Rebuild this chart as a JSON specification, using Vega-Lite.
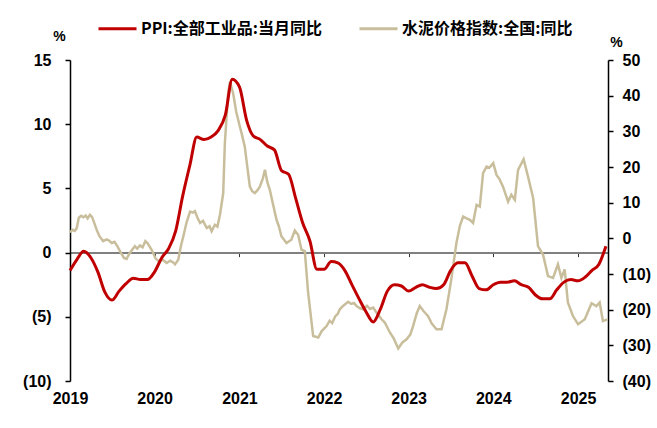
{
  "$schema": "https://vega.github.io/schema/vega-lite/v6.json",
  "width": 538,
  "height": 321,
  "autosize": {"type": "none"},
  "padding": {"left": 70, "top": 60, "right": 49, "bottom": 47},
  "background": "white",
  "config": {"view": {"stroke": null}, "font": "Liberation Sans Narrow, Liberation Sans, sans-serif"},
  "datasets": {
    "ppi": [
      {"date": "2019-01-01", "value": -1.4}, {"date": "2019-02-01", "value": -0.5}, {"date": "2019-03-01", "value": 0.1},
      {"date": "2019-04-01", "value": -0.4}, {"date": "2019-05-01", "value": -1.5}, {"date": "2019-06-01", "value": -3.1},
      {"date": "2019-07-01", "value": -3.7}, {"date": "2019-08-01", "value": -3.0}, {"date": "2019-09-01", "value": -2.4},
      {"date": "2019-10-01", "value": -2.0}, {"date": "2019-11-01", "value": -2.1}, {"date": "2019-12-01", "value": -2.1},
      {"date": "2020-01-01", "value": -1.5}, {"date": "2020-02-01", "value": -0.4}, {"date": "2020-03-01", "value": 0.3},
      {"date": "2020-04-01", "value": 1.7}, {"date": "2020-05-01", "value": 4.4}, {"date": "2020-06-01", "value": 6.8},
      {"date": "2020-07-01", "value": 9.0}, {"date": "2020-08-01", "value": 8.8}, {"date": "2020-09-01", "value": 9.0},
      {"date": "2020-10-01", "value": 9.5}, {"date": "2020-11-01", "value": 10.7}, {"date": "2020-12-01", "value": 13.5},
      {"date": "2021-01-01", "value": 12.9}, {"date": "2021-02-01", "value": 10.3}, {"date": "2021-03-01", "value": 9.1},
      {"date": "2021-04-01", "value": 8.8}, {"date": "2021-05-01", "value": 8.3}, {"date": "2021-06-01", "value": 8.0},
      {"date": "2021-07-01", "value": 6.4}, {"date": "2021-08-01", "value": 6.1}, {"date": "2021-09-01", "value": 4.2},
      {"date": "2021-10-01", "value": 2.3}, {"date": "2021-11-01", "value": 0.9}, {"date": "2021-12-01", "value": -1.3},
      {"date": "2022-01-01", "value": -1.3}, {"date": "2022-02-01", "value": -0.7}, {"date": "2022-03-01", "value": -0.8},
      {"date": "2022-04-01", "value": -1.4}, {"date": "2022-05-01", "value": -2.5}, {"date": "2022-06-01", "value": -3.6},
      {"date": "2022-07-01", "value": -4.6}, {"date": "2022-08-01", "value": -5.4}, {"date": "2022-09-01", "value": -4.4},
      {"date": "2022-10-01", "value": -3.0}, {"date": "2022-11-01", "value": -2.5}, {"date": "2022-12-01", "value": -2.6},
      {"date": "2023-01-01", "value": -3.0}, {"date": "2023-02-01", "value": -2.7}, {"date": "2023-03-01", "value": -2.5},
      {"date": "2023-04-01", "value": -2.7}, {"date": "2023-05-01", "value": -2.8}, {"date": "2023-06-01", "value": -2.5},
      {"date": "2023-07-01", "value": -1.4}, {"date": "2023-08-01", "value": -0.8}, {"date": "2023-09-01", "value": -0.8},
      {"date": "2023-10-01", "value": -1.8}, {"date": "2023-11-01", "value": -2.8}, {"date": "2023-12-01", "value": -2.9},
      {"date": "2024-01-01", "value": -2.5}, {"date": "2024-02-01", "value": -2.3}, {"date": "2024-03-01", "value": -2.3},
      {"date": "2024-04-01", "value": -2.2}, {"date": "2024-05-01", "value": -2.5}, {"date": "2024-06-01", "value": -2.7},
      {"date": "2024-07-01", "value": -3.3}, {"date": "2024-08-01", "value": -3.6}, {"date": "2024-09-01", "value": -3.6},
      {"date": "2024-10-01", "value": -2.9}, {"date": "2024-11-01", "value": -2.3}, {"date": "2024-12-01", "value": -2.1},
      {"date": "2025-01-01", "value": -2.2}, {"date": "2025-02-01", "value": -1.9}, {"date": "2025-03-01", "value": -1.4},
      {"date": "2025-04-01", "value": -0.9}, {"date": "2025-05-01", "value": 0.5}
    ],
    "cement": [
      {"date": "2019-01-01", "value": 1.7}, {"date": "2019-01-12", "value": 2.4}, {"date": "2019-01-22", "value": 2.1},
      {"date": "2019-01-30", "value": 2.8}, {"date": "2019-02-08", "value": 5.8}, {"date": "2019-02-18", "value": 6.3},
      {"date": "2019-02-28", "value": 5.9}, {"date": "2019-03-10", "value": 6.4}, {"date": "2019-03-18", "value": 5.6},
      {"date": "2019-03-28", "value": 6.6}, {"date": "2019-04-06", "value": 6.0}, {"date": "2019-04-14", "value": 4.6},
      {"date": "2019-04-26", "value": 2.4}, {"date": "2019-05-08", "value": 0.6}, {"date": "2019-05-24", "value": -0.8},
      {"date": "2019-06-08", "value": -0.3}, {"date": "2019-06-18", "value": -0.6}, {"date": "2019-06-30", "value": -1.3},
      {"date": "2019-07-12", "value": -1.0}, {"date": "2019-07-24", "value": -2.2}, {"date": "2019-08-10", "value": -4.2},
      {"date": "2019-08-22", "value": -5.5}, {"date": "2019-09-02", "value": -5.8}, {"date": "2019-09-14", "value": -4.3},
      {"date": "2019-09-26", "value": -3.2}, {"date": "2019-10-08", "value": -2.2}, {"date": "2019-10-18", "value": -2.9},
      {"date": "2019-10-30", "value": -2.0}, {"date": "2019-11-10", "value": -2.5}, {"date": "2019-11-22", "value": -0.8},
      {"date": "2019-12-02", "value": -1.4}, {"date": "2019-12-19", "value": -3.2}, {"date": "2020-01-05", "value": -5.6},
      {"date": "2020-01-18", "value": -6.4}, {"date": "2020-02-05", "value": -6.0}, {"date": "2020-02-22", "value": -6.9},
      {"date": "2020-03-08", "value": -6.3}, {"date": "2020-03-20", "value": -6.7}, {"date": "2020-03-29", "value": -7.3},
      {"date": "2020-04-12", "value": -6.0}, {"date": "2020-04-24", "value": -2.0}, {"date": "2020-05-04", "value": 0.6},
      {"date": "2020-05-18", "value": 4.5}, {"date": "2020-06-02", "value": 7.5}, {"date": "2020-06-14", "value": 7.2},
      {"date": "2020-06-23", "value": 7.6}, {"date": "2020-07-05", "value": 5.6}, {"date": "2020-07-15", "value": 4.3},
      {"date": "2020-07-28", "value": 4.9}, {"date": "2020-08-13", "value": 2.9}, {"date": "2020-08-25", "value": 3.4},
      {"date": "2020-09-03", "value": 2.0}, {"date": "2020-09-17", "value": 3.8}, {"date": "2020-09-28", "value": 3.3},
      {"date": "2020-10-09", "value": 6.6}, {"date": "2020-10-23", "value": 12.7}, {"date": "2020-10-30", "value": 26.6},
      {"date": "2020-11-13", "value": 40.6}, {"date": "2020-11-21", "value": 43.9}, {"date": "2020-12-05", "value": 40.6},
      {"date": "2020-12-18", "value": 35.5}, {"date": "2021-01-03", "value": 31.3}, {"date": "2021-01-12", "value": 29.0},
      {"date": "2021-01-24", "value": 25.7}, {"date": "2021-02-05", "value": 19.5}, {"date": "2021-02-15", "value": 14.5},
      {"date": "2021-02-25", "value": 13.2}, {"date": "2021-03-08", "value": 12.7}, {"date": "2021-03-20", "value": 13.5},
      {"date": "2021-03-30", "value": 14.5}, {"date": "2021-04-12", "value": 16.8}, {"date": "2021-04-21", "value": 19.2},
      {"date": "2021-05-01", "value": 15.8}, {"date": "2021-05-12", "value": 13.6}, {"date": "2021-05-25", "value": 9.8},
      {"date": "2021-06-10", "value": 5.2}, {"date": "2021-06-20", "value": 3.4}, {"date": "2021-07-01", "value": 0.6},
      {"date": "2021-07-23", "value": -1.3}, {"date": "2021-08-13", "value": -0.4}, {"date": "2021-08-28", "value": 2.2},
      {"date": "2021-09-11", "value": 1.0}, {"date": "2021-09-26", "value": -3.2}, {"date": "2021-10-10", "value": -3.6},
      {"date": "2021-10-24", "value": -15.0}, {"date": "2021-11-15", "value": -27.4}, {"date": "2021-12-07", "value": -27.8},
      {"date": "2021-12-22", "value": -26.0}, {"date": "2022-01-12", "value": -24.6}, {"date": "2022-01-25", "value": -23.1},
      {"date": "2022-02-05", "value": -23.8}, {"date": "2022-02-18", "value": -21.9}, {"date": "2022-03-01", "value": -21.2},
      {"date": "2022-03-10", "value": -19.9}, {"date": "2022-03-25", "value": -18.9}, {"date": "2022-04-15", "value": -17.8},
      {"date": "2022-04-28", "value": -18.4}, {"date": "2022-05-10", "value": -18.1}, {"date": "2022-05-21", "value": -19.0},
      {"date": "2022-06-05", "value": -19.6}, {"date": "2022-06-19", "value": -19.9}, {"date": "2022-07-05", "value": -18.9},
      {"date": "2022-07-18", "value": -19.8}, {"date": "2022-08-01", "value": -19.4}, {"date": "2022-08-15", "value": -20.8},
      {"date": "2022-09-06", "value": -22.7}, {"date": "2022-09-20", "value": -23.6}, {"date": "2022-10-12", "value": -26.4},
      {"date": "2022-10-28", "value": -28.0}, {"date": "2022-11-17", "value": -30.9}, {"date": "2022-12-05", "value": -29.2},
      {"date": "2022-12-23", "value": -28.3}, {"date": "2023-01-08", "value": -27.0}, {"date": "2023-01-20", "value": -24.6},
      {"date": "2023-02-05", "value": -21.0}, {"date": "2023-02-18", "value": -19.0}, {"date": "2023-03-05", "value": -20.3},
      {"date": "2023-03-26", "value": -21.8}, {"date": "2023-04-10", "value": -23.8}, {"date": "2023-05-01", "value": -25.5},
      {"date": "2023-05-23", "value": -25.5}, {"date": "2023-06-05", "value": -22.0}, {"date": "2023-06-13", "value": -19.9},
      {"date": "2023-07-04", "value": -11.5}, {"date": "2023-07-26", "value": -1.3}, {"date": "2023-08-10", "value": 3.5},
      {"date": "2023-08-24", "value": 6.1}, {"date": "2023-09-08", "value": 5.6}, {"date": "2023-09-22", "value": 5.2},
      {"date": "2023-10-06", "value": 4.3}, {"date": "2023-10-21", "value": 9.4}, {"date": "2023-11-04", "value": 8.9},
      {"date": "2023-11-18", "value": 18.3}, {"date": "2023-12-03", "value": 20.1}, {"date": "2023-12-15", "value": 19.8},
      {"date": "2024-01-01", "value": 21.1}, {"date": "2024-01-15", "value": 17.8}, {"date": "2024-01-28", "value": 16.6},
      {"date": "2024-02-12", "value": 14.5}, {"date": "2024-03-05", "value": 10.3}, {"date": "2024-03-19", "value": 12.2},
      {"date": "2024-04-03", "value": 10.8}, {"date": "2024-04-17", "value": 19.2}, {"date": "2024-05-11", "value": 22.2},
      {"date": "2024-05-30", "value": 17.3}, {"date": "2024-06-21", "value": 11.3}, {"date": "2024-07-12", "value": -2.2},
      {"date": "2024-08-03", "value": -4.6}, {"date": "2024-08-24", "value": -10.6}, {"date": "2024-09-15", "value": -11.1},
      {"date": "2024-10-06", "value": -7.3}, {"date": "2024-10-21", "value": -11.1}, {"date": "2024-11-04", "value": -8.7},
      {"date": "2024-11-18", "value": -18.0}, {"date": "2024-12-10", "value": -21.8}, {"date": "2025-01-01", "value": -24.1},
      {"date": "2025-01-30", "value": -22.7}, {"date": "2025-02-28", "value": -18.2}, {"date": "2025-03-21", "value": -19.0},
      {"date": "2025-04-04", "value": -18.0}, {"date": "2025-04-18", "value": -23.2}, {"date": "2025-05-08", "value": -22.7}
    ]
  },
  "encoding": {
    "x": {
      "field": "date",
      "type": "temporal",
      "scale": {"type": "utc", "domain": [{"year": 2019, "month": 1, "date": 1, "utc": true}, {"year": 2025, "month": 5, "date": 10, "utc": true}]},
      "axis": {
        "title": null,
        "grid": false,
        "values": [
          {"year": 2019, "month": 1, "date": 1, "utc": true}, {"year": 2020, "month": 1, "date": 1, "utc": true},
          {"year": 2021, "month": 1, "date": 1, "utc": true}, {"year": 2022, "month": 1, "date": 1, "utc": true},
          {"year": 2023, "month": 1, "date": 1, "utc": true}, {"year": 2024, "month": 1, "date": 1, "utc": true},
          {"year": 2025, "month": 1, "date": 1, "utc": true}
        ],
        "labelExpr": "utcFormat(datum.value, '%Y')",
        "offset": -128.4,
        "domainColor": "#808080",
        "domainWidth": 2,
        "tickColor": "#333333",
        "tickSize": 4,
        "tickWidth": 1,
        "labelPadding": 134,
        "labelFontSize": 16,
        "labelFontWeight": "bold",
        "labelColor": "black",
        "labelFlush": false,
        "labelOverlap": false,
        "labelBound": false
      }
    }
  },
  "layer": [
    {
      "data": {"name": "cement"},
      "mark": {"type": "line", "strokeWidth": 2.5, "interpolate": "linear"},
      "encoding": {
        "y": {
          "field": "value",
          "type": "quantitative",
          "scale": {"domain": [-40, 50], "nice": false, "zero": false},
          "axis": {
            "orient": "right",
            "values": [-40, -30, -20, -10, 0, 10, 20, 30, 40, 50],
            "labelExpr": "datum.value < 0 ? '(' + (-datum.value) + ')' : datum.label",
            "grid": false,
            "domainColor": "black",
            "domainWidth": 1.5,
            "tickColor": "black",
            "tickWidth": 1.5,
            "tickSize": 5,
            "labelPadding": 9,
            "labelFontSize": 16,
            "labelFontWeight": "bold",
            "labelColor": "black",
            "title": "%",
            "titleAngle": 0,
            "titleX": 8,
            "titleY": -18,
            "titleAlign": "center",
            "titleBaseline": "middle",
            "titleFontSize": 14,
            "titleFontWeight": "bold",
            "titleColor": "black"
          }
        },
        "color": {
          "datum": "水泥价格指数:全国:同比",
          "scale": {"domain": ["PPI:全部工业品:当月同比", "水泥价格指数:全国:同比"], "range": ["#C00000", "#C9BE9C"]},
          "legend": {
            "orient": "none",
            "legendX": 27,
            "legendY": -52,
            "direction": "horizontal",
            "title": null,
            "padding": 0,
            "symbolType": "stroke",
            "symbolSize": 1444,
            "symbolStrokeWidth": 3,
            "labelFont": "Noto Sans CJK SC",
            "labelFontSize": 16,
            "labelFontWeight": "bold",
            "labelColor": "black",
            "labelOffset": 3,
            "labelLimit": 400,
            "columnPadding": 30
          }
        }
      }
    },
    {
      "data": {"name": "ppi"},
      "mark": {"type": "line", "strokeWidth": 3, "interpolate": "monotone"},
      "encoding": {
        "y": {
          "field": "value",
          "type": "quantitative",
          "scale": {"domain": [-10, 15], "nice": false, "zero": false},
          "axis": {
            "orient": "left",
            "values": [-10, -5, 0, 5, 10, 15],
            "labelExpr": "datum.value < 0 ? '(' + (-datum.value) + ')' : datum.label",
            "grid": false,
            "domainColor": "black",
            "domainWidth": 1.5,
            "tickColor": "black",
            "tickWidth": 1.5,
            "tickSize": 5,
            "labelPadding": 14,
            "labelFontSize": 16,
            "labelFontWeight": "bold",
            "labelColor": "black",
            "title": "%",
            "titleAngle": 0,
            "titleX": -11,
            "titleY": -24,
            "titleAlign": "center",
            "titleBaseline": "middle",
            "titleFontSize": 14,
            "titleFontWeight": "bold",
            "titleColor": "black"
          }
        },
        "color": {
          "datum": "PPI:全部工业品:当月同比",
          "scale": {"domain": ["PPI:全部工业品:当月同比", "水泥价格指数:全国:同比"], "range": ["#C00000", "#C9BE9C"]}
        }
      }
    }
  ],
  "resolve": {"scale": {"y": "independent"}, "axis": {"y": "independent"}}
}
